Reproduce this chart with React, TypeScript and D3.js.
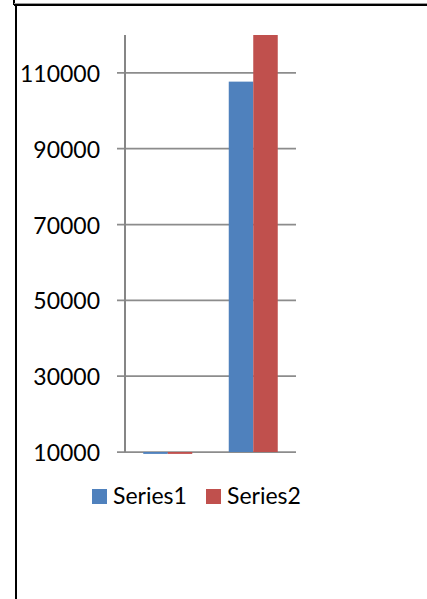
import React from "react";
import * as d3 from "d3";

const categories = ["1", "2"];
const seriesNames = ["Series1", "Series2"];
const series1 = [9500, 107700];
const series2 = [9500, 120000];
const yTicks = [10000, 30000, 50000, 70000, 90000, 110000];
const colors = ["#4F81BD", "#C0504D"];

export default function App() {
  const W = 427, H = 599;
  const y = d3.scaleLinear().domain([10000, 120000]).range([452, 35]);
  const x = d3.scaleBand().domain(categories).range([125, 296]).padding(0);
  const inner = d3
    .scaleBand()
    .domain(seriesNames)
    .range([0, x.bandwidth()])
    .paddingInner(0)
    .paddingOuter(18.25 / 24.5);
  const data = [series1, series2];
  const font = "Lato, 'Open Sans', sans-serif";
  const base = y(10000);

  return (
    <svg
      width={W}
      height={H}
      style={{ position: "fixed", left: 0, top: 0, background: "#fff" }}
      viewBox={`0 0 ${W} ${H}`}
    >
      <rect x={0} y={0} width={W} height={H} fill="#fff" />
      {/* frame */}
      <rect x={13} y={0} width={2} height={5} fill="#000" />
      <rect x={14} y={3} width={W - 14} height={1} fill="#999" />
      <rect x={14} y={4} width={W - 14} height={2} fill="#000" />
      <rect x={15} y={4} width={2} height={H - 4} fill="#000" />

      {/* gridlines */}
      {yTicks.map((t) => (
        <line
          key={t}
          x1={117}
          x2={296}
          y1={y(t)}
          y2={y(t)}
          stroke="#8C8C8C"
          strokeWidth={1.75}
        />
      ))}
      {/* y axis */}
      <line x1={125} x2={125} y1={y(120000)} y2={base} stroke="#868686" strokeWidth={2} />

      {/* bars */}
      {data.map((vals, si) =>
        vals.map((v, ci) => {
          const yv = y(v);
          const top = Math.min(yv, base);
          const h = Math.abs(yv - base);
          return (
            <rect
              key={`${si}-${ci}`}
              x={(x(categories[ci]) ?? 0) + (inner(seriesNames[si]) ?? 0)}
              y={v < 10000 ? base : top}
              width={inner.bandwidth()}
              height={h}
              fill={colors[si]}
            />
          );
        })
      )}

      {/* y labels */}
      {yTicks.map((t) => (
        <text
          key={t}
          x={100}
          y={y(t)}
          textAnchor="end"
          dominantBaseline="central"
          fontFamily={font}
          fontSize={23}
          fill="#000"
        >
          {t}
        </text>
      ))}

      {/* legend */}
      {seriesNames.map((s, i) => {
        const lx = [92, 206][i];
        return (
          <g key={s}>
            <rect x={lx} y={489} width={15} height={15} fill={colors[i]} />
            <text x={lx + 21} y={504} fontFamily={font} fontSize={23} fill="#000">
              {s}
            </text>
          </g>
        );
      })}
    </svg>
  );
}
